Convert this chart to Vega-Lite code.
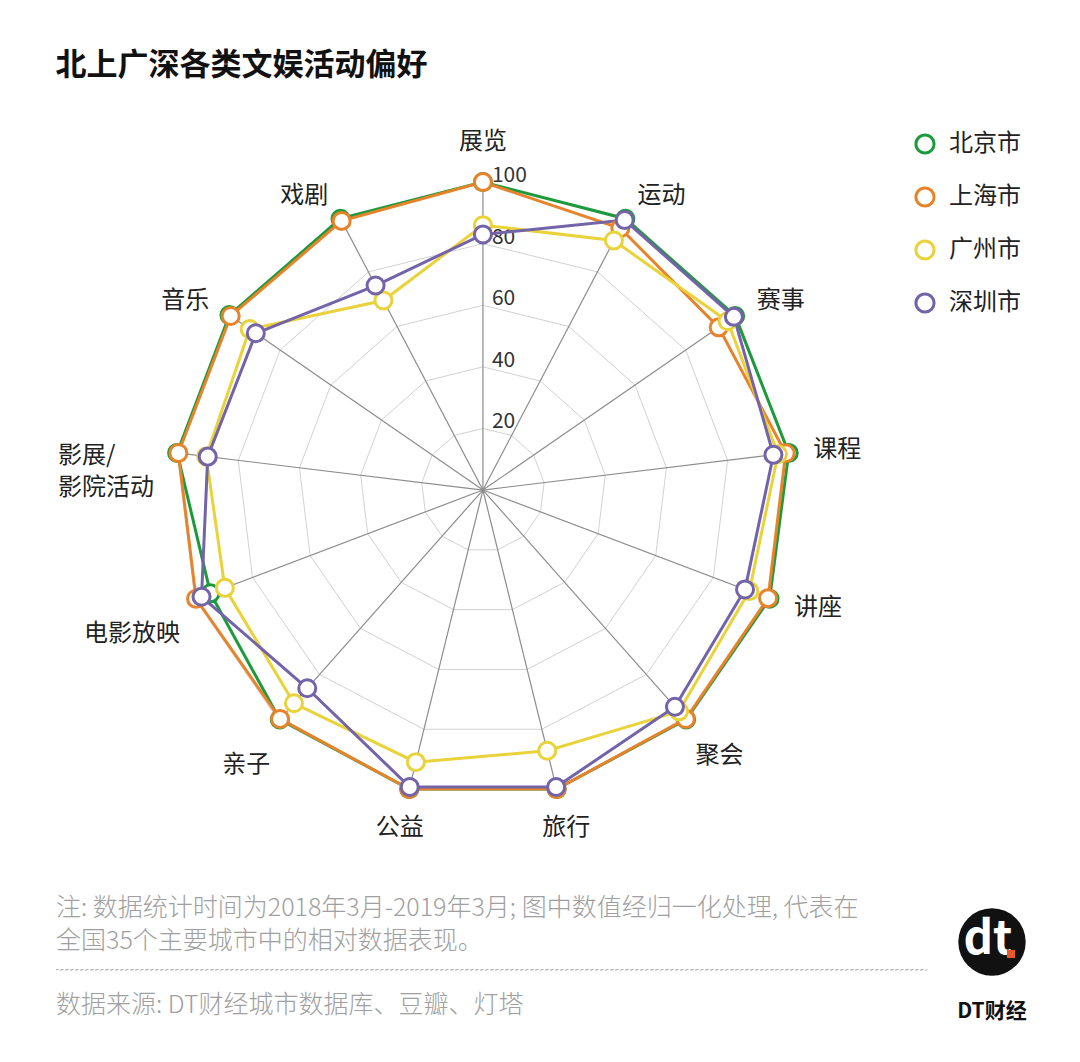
{
  "$schema": "https://vega.github.io/schema/vega-lite/v6.json",
  "background": "white",
  "padding": {"left": 55, "top": 50, "right": 0, "bottom": 30},
  "title": {
    "text": "北上广深各类文娱活动偏好",
    "anchor": "start",
    "fontSize": 31,
    "fontWeight": "bold",
    "color": "#111111",
    "offset": 12,
    "font": "Noto Sans CJK SC"
  },
  "config": {
    "font": "Noto Sans CJK SC",
    "view": {"stroke": null}
  },
  "spacing": 15,
  "datasets": {
    "axes": [
      {"cat": "展览", "k": 0, "label": "展览", "levels": [20, 40, 60, 80, 100]},
      {"cat": "运动", "k": 1, "label": "运动", "levels": [20, 40, 60, 80, 100]},
      {"cat": "赛事", "k": 2, "label": "赛事", "levels": [20, 40, 60, 80, 100]},
      {"cat": "课程", "k": 3, "label": "课程", "levels": [20, 40, 60, 80, 100]},
      {"cat": "讲座", "k": 4, "label": "讲座", "levels": [20, 40, 60, 80, 100]},
      {"cat": "聚会", "k": 5, "label": "聚会", "levels": [20, 40, 60, 80, 100]},
      {"cat": "旅行", "k": 6, "label": "旅行", "levels": [20, 40, 60, 80, 100]},
      {"cat": "公益", "k": 7, "label": "公益", "levels": [20, 40, 60, 80, 100]},
      {"cat": "亲子", "k": 8, "label": "亲子", "levels": [20, 40, 60, 80, 100]},
      {"cat": "电影放映", "k": 9, "label": "电影放映", "levels": [20, 40, 60, 80, 100]},
      {"cat": "影展/影院活动", "k": 10, "label": "影展/\n影院活动", "levels": [20, 40, 60, 80, 100]},
      {"cat": "音乐", "k": 11, "label": "音乐", "levels": [20, 40, 60, 80, 100]},
      {"cat": "戏剧", "k": 12, "label": "戏剧", "levels": [20, 40, 60, 80, 100]}
    ],
    "scores": [
      {"city": "北京市", "cat": "展览", "k": 0, "value": 100},
      {"city": "北京市", "cat": "运动", "k": 1, "value": 99.5},
      {"city": "北京市", "cat": "赛事", "k": 2, "value": 99.5},
      {"city": "北京市", "cat": "课程", "k": 3, "value": 100},
      {"city": "北京市", "cat": "讲座", "k": 4, "value": 99.5},
      {"city": "北京市", "cat": "聚会", "k": 5, "value": 99.5},
      {"city": "北京市", "cat": "旅行", "k": 6, "value": 100},
      {"city": "北京市", "cat": "公益", "k": 7, "value": 100},
      {"city": "北京市", "cat": "亲子", "k": 8, "value": 99.5},
      {"city": "北京市", "cat": "电影放映", "k": 9, "value": 94.6},
      {"city": "北京市", "cat": "影展/影院活动", "k": 10, "value": 100},
      {"city": "北京市", "cat": "音乐", "k": 11, "value": 100},
      {"city": "北京市", "cat": "戏剧", "k": 12, "value": 99.5},
      {"city": "上海市", "cat": "展览", "k": 0, "value": 100},
      {"city": "上海市", "cat": "运动", "k": 1, "value": 96},
      {"city": "上海市", "cat": "赛事", "k": 2, "value": 93},
      {"city": "上海市", "cat": "课程", "k": 3, "value": 99},
      {"city": "上海市", "cat": "讲座", "k": 4, "value": 99},
      {"city": "上海市", "cat": "聚会", "k": 5, "value": 99.3},
      {"city": "上海市", "cat": "旅行", "k": 6, "value": 100},
      {"city": "上海市", "cat": "公益", "k": 7, "value": 100},
      {"city": "上海市", "cat": "亲子", "k": 8, "value": 99.3},
      {"city": "上海市", "cat": "电影放映", "k": 9, "value": 99.6},
      {"city": "上海市", "cat": "影展/影院活动", "k": 10, "value": 99.6},
      {"city": "上海市", "cat": "音乐", "k": 11, "value": 99.5},
      {"city": "上海市", "cat": "戏剧", "k": 12, "value": 98.7},
      {"city": "广州市", "cat": "展览", "k": 0, "value": 86},
      {"city": "广州市", "cat": "运动", "k": 1, "value": 91.5},
      {"city": "广州市", "cat": "赛事", "k": 2, "value": 96.5},
      {"city": "广州市", "cat": "课程", "k": 3, "value": 96.5},
      {"city": "广州市", "cat": "讲座", "k": 4, "value": 92.5},
      {"city": "广州市", "cat": "聚会", "k": 5, "value": 96},
      {"city": "广州市", "cat": "旅行", "k": 6, "value": 87.2},
      {"city": "广州市", "cat": "公益", "k": 7, "value": 91},
      {"city": "广州市", "cat": "亲子", "k": 8, "value": 92.5},
      {"city": "广州市", "cat": "电影放映", "k": 9, "value": 89.6},
      {"city": "广州市", "cat": "影展/影院活动", "k": 10, "value": 90.5},
      {"city": "广州市", "cat": "音乐", "k": 11, "value": 92},
      {"city": "广州市", "cat": "戏剧", "k": 12, "value": 69.5},
      {"city": "深圳市", "cat": "展览", "k": 0, "value": 83},
      {"city": "深圳市", "cat": "运动", "k": 1, "value": 99},
      {"city": "深圳市", "cat": "赛事", "k": 2, "value": 99},
      {"city": "深圳市", "cat": "课程", "k": 3, "value": 95},
      {"city": "深圳市", "cat": "讲座", "k": 4, "value": 91},
      {"city": "深圳市", "cat": "聚会", "k": 5, "value": 94},
      {"city": "深圳市", "cat": "旅行", "k": 6, "value": 99.3},
      {"city": "深圳市", "cat": "公益", "k": 7, "value": 99.3},
      {"city": "深圳市", "cat": "亲子", "k": 8, "value": 86},
      {"city": "深圳市", "cat": "电影放映", "k": 9, "value": 97.7},
      {"city": "深圳市", "cat": "影展/影院活动", "k": 10, "value": 90},
      {"city": "深圳市", "cat": "音乐", "k": 11, "value": 89.6},
      {"city": "深圳市", "cat": "戏剧", "k": 12, "value": 75}
    ]
  },
  "vconcat": [
    {
      "width": 970,
      "height": 785,
      "layer": [
        {
          "data": {"name": "axes"},
          "transform": [
            {"flatten": ["levels"], "as": ["level"]},
            {"calculate": "datum.level * sin(2 * PI * datum.k / 13)", "as": "gx"},
            {"calculate": "datum.level * cos(2 * PI * datum.k / 13)", "as": "gy"}
          ],
          "mark": {"type": "line", "interpolate": "linear-closed", "stroke": "#d2d2d2", "strokeWidth": 1},
          "encoding": {
            "x": {"field": "gx", "type": "quantitative", "scale": {"domain": [-138.6, 176.3], "nice": false, "zero": false}, "axis": null},
            "y": {"field": "gy", "type": "quantitative", "scale": {"domain": [-126.3, 128.6], "nice": false, "zero": false}, "axis": null},
            "detail": {"field": "level", "type": "nominal"},
            "order": {"field": "k", "type": "quantitative"}
          }
        },
        {
          "data": {"name": "axes"},
          "transform": [
            {"calculate": "0", "as": "ox"},
            {"calculate": "100 * sin(2 * PI * datum.k / 13)", "as": "sx"},
            {"calculate": "100 * cos(2 * PI * datum.k / 13)", "as": "sy"}
          ],
          "mark": {"type": "rule", "stroke": "#8c8c8c", "strokeWidth": 1.2},
          "encoding": {
            "x": {"field": "ox", "type": "quantitative", "scale": {"domain": [-138.6, 176.3], "nice": false, "zero": false}, "axis": null},
            "y": {"field": "ox", "type": "quantitative", "scale": {"domain": [-126.3, 128.6], "nice": false, "zero": false}, "axis": null},
            "x2": {"field": "sx"},
            "y2": {"field": "sy"}
          }
        },
        {
          "data": {"name": "axes"},
          "transform": [
            {"filter": "datum.k == 0"},
            {"flatten": ["levels"], "as": ["level"]},
            {"calculate": "datum.level * sin(2 * PI * datum.k / 13)", "as": "gx"},
            {"calculate": "datum.level * cos(2 * PI * datum.k / 13)", "as": "gy"}
          ],
          "mark": {"type": "text", "align": "left", "baseline": "middle", "dx": 9, "dy": -6, "fontSize": 21, "color": "#333333"},
          "encoding": {
            "x": {"field": "gx", "type": "quantitative"},
            "y": {"field": "gy", "type": "quantitative"},
            "text": {"field": "level", "type": "quantitative"}
          }
        },
        {
          "data": {"name": "scores"},
          "transform": [
            {"calculate": "datum.value * sin(2 * PI * datum.k / 13)", "as": "px"},
            {"calculate": "datum.value * cos(2 * PI * datum.k / 13)", "as": "py"}
          ],
          "mark": {"type": "line", "interpolate": "linear-closed", "strokeWidth": 3},
          "encoding": {
            "x": {"field": "px", "type": "quantitative"},
            "y": {"field": "py", "type": "quantitative"},
            "color": {
              "field": "city",
              "type": "nominal",
              "scale": {"domain": ["北京市", "上海市", "广州市", "深圳市"], "range": ["#1d9a3c", "#e7832b", "#ead23a", "#7363a8"]}
            },
            "order": {"field": "k", "type": "quantitative"}
          }
        },
        {
          "data": {"name": "scores"},
          "transform": [
            {"calculate": "datum.value * sin(2 * PI * datum.k / 13)", "as": "px"},
            {"calculate": "datum.value * cos(2 * PI * datum.k / 13)", "as": "py"}
          ],
          "mark": {"type": "point", "shape": "circle", "filled": false, "fill": "white", "size": 290, "strokeWidth": 3, "opacity": 1},
          "encoding": {
            "x": {"field": "px", "type": "quantitative"},
            "y": {"field": "py", "type": "quantitative"},
            "color": {
              "field": "city",
              "type": "nominal",
              "scale": {"domain": ["北京市", "上海市", "广州市", "深圳市"], "range": ["#1d9a3c", "#e7832b", "#ead23a", "#7363a8"]},
              "legend": {
                "title": null,
                "orient": "none",
                "legendX": 857,
                "legendY": 38,
                "symbolType": "circle",
                "symbolSize": 330,
                "symbolStrokeWidth": 3,
                "symbolFillColor": "white",
                "labelFontSize": 24,
                "labelColor": "#222222",
                "labelOffset": 12,
                "rowPadding": 21
              }
            }
          }
        },
        {
          "data": {"name": "axes"},
          "transform": [
            {"filter": "datum.k >= 1 && datum.k <= 4"},
            {"calculate": "108 * sin(2 * PI * datum.k / 13)", "as": "lx"},
            {"calculate": "108 * cos(2 * PI * datum.k / 13)", "as": "ly"}
          ],
          "mark": {"type": "text", "align": "left", "baseline": "middle", "fontSize": 24, "color": "#222222"},
          "encoding": {
            "x": {"field": "lx", "type": "quantitative"},
            "y": {"field": "ly", "type": "quantitative"},
            "text": {"field": "label"}
          }
        },
        {
          "data": {"name": "axes"},
          "transform": [
            {"filter": "datum.k == 5"},
            {"calculate": "108 * sin(2 * PI * datum.k / 13)", "as": "lx"},
            {"calculate": "108 * cos(2 * PI * datum.k / 13)", "as": "ly"}
          ],
          "mark": {"type": "text", "align": "left", "baseline": "middle", "dx": -8, "dy": 17, "fontSize": 24, "color": "#222222"},
          "encoding": {
            "x": {"field": "lx", "type": "quantitative"},
            "y": {"field": "ly", "type": "quantitative"},
            "text": {"field": "label"}
          }
        },
        {
          "data": {"name": "axes"},
          "transform": [
            {"filter": "datum.k == 8 || datum.k == 9"},
            {"calculate": "108 * sin(2 * PI * datum.k / 13)", "as": "lx"},
            {"calculate": "108 * cos(2 * PI * datum.k / 13)", "as": "ly"}
          ],
          "mark": {"type": "text", "align": "right", "baseline": "middle", "dx": 8, "dy": 26, "fontSize": 24, "color": "#222222"},
          "encoding": {
            "x": {"field": "lx", "type": "quantitative"},
            "y": {"field": "ly", "type": "quantitative"},
            "text": {"field": "label"}
          }
        },
        {
          "data": {"name": "axes"},
          "transform": [
            {"filter": "datum.k == 11 || datum.k == 12"},
            {"calculate": "108 * sin(2 * PI * datum.k / 13)", "as": "lx"},
            {"calculate": "108 * cos(2 * PI * datum.k / 13)", "as": "ly"}
          ],
          "mark": {"type": "text", "align": "right", "baseline": "middle", "fontSize": 24, "color": "#222222"},
          "encoding": {
            "x": {"field": "lx", "type": "quantitative"},
            "y": {"field": "ly", "type": "quantitative"},
            "text": {"field": "label"}
          }
        },
        {
          "data": {"name": "axes"},
          "transform": [
            {"filter": "datum.k == 0 || datum.k == 6 || datum.k == 7"},
            {"calculate": "113 * sin(2 * PI * datum.k / 13)", "as": "lx"},
            {"calculate": "113 * cos(2 * PI * datum.k / 13)", "as": "ly"}
          ],
          "mark": {"type": "text", "align": "center", "baseline": "middle", "fontSize": 24, "color": "#222222"},
          "encoding": {
            "x": {"field": "lx", "type": "quantitative"},
            "y": {"field": "ly", "type": "quantitative"},
            "text": {"field": "label"}
          }
        },
        {
          "data": {"name": "axes"},
          "transform": [
            {"filter": "datum.k == 10"},
            {"calculate": "139 * sin(2 * PI * datum.k / 13)", "as": "lx"},
            {"calculate": "139 * cos(2 * PI * datum.k / 13)", "as": "ly"}
          ],
          "mark": {"type": "text", "align": "left", "baseline": "middle", "lineBreak": "\n", "lineHeight": 32, "dy": 18, "fontSize": 24, "color": "#222222"},
          "encoding": {
            "x": {"field": "lx", "type": "quantitative"},
            "y": {"field": "ly", "type": "quantitative"},
            "text": {"field": "label"}
          }
        }
      ]
    },
    {
      "spacing": 20,
      "hconcat": [
        {
          "spacing": 12,
          "vconcat": [
            {
              "width": 870,
              "height": 0.5,
              "title": {
                "text": ["注: 数据统计时间为2018年3月-2019年3月; 图中数值经归一化处理, 代表在", "全国35个主要城市中的相对数据表现。"],
                "orient": "bottom",
                "anchor": "start",
                "fontSize": 25,
                "fontWeight": 300,
                "color": "#a0a0a0",
                "lineHeight": 33,
                "offset": -4
              },
              "data": {"values": [{}]},
              "mark": {"type": "point", "opacity": 0}
            },
            {
              "width": 870,
              "height": 0.5,
              "view": {"stroke": "#aaaaaa", "strokeDash": [2, 3], "strokeWidth": 1},
              "title": {
                "text": "数据来源: DT财经城市数据库、豆瓣、灯塔",
                "orient": "bottom",
                "anchor": "start",
                "fontSize": 25,
                "fontWeight": 300,
                "color": "#a0a0a0",
                "offset": 21
              },
              "data": {"values": [{}]},
              "mark": {"type": "point", "opacity": 0}
            }
          ]
        },
        {
          "width": 90,
          "height": 90,
          "data": {"values": [{}]},
          "title": {"text": "DT财经", "orient": "bottom", "fontSize": 21, "fontWeight": "bold", "color": "#111111", "offset": 14},
          "layer": [
            {"mark": {"type": "circle", "size": 4540, "color": "#111111", "opacity": 1}},
            {"mark": {"type": "text", "text": "dt", "color": "white", "fontSize": 46, "fontWeight": "bold", "baseline": "middle", "dx": -4, "dy": -2}},
            {"mark": {"type": "square", "size": 64, "color": "#e8582b", "opacity": 1, "xOffset": 19, "yOffset": 12}}
          ]
        }
      ]
    }
  ]
}
